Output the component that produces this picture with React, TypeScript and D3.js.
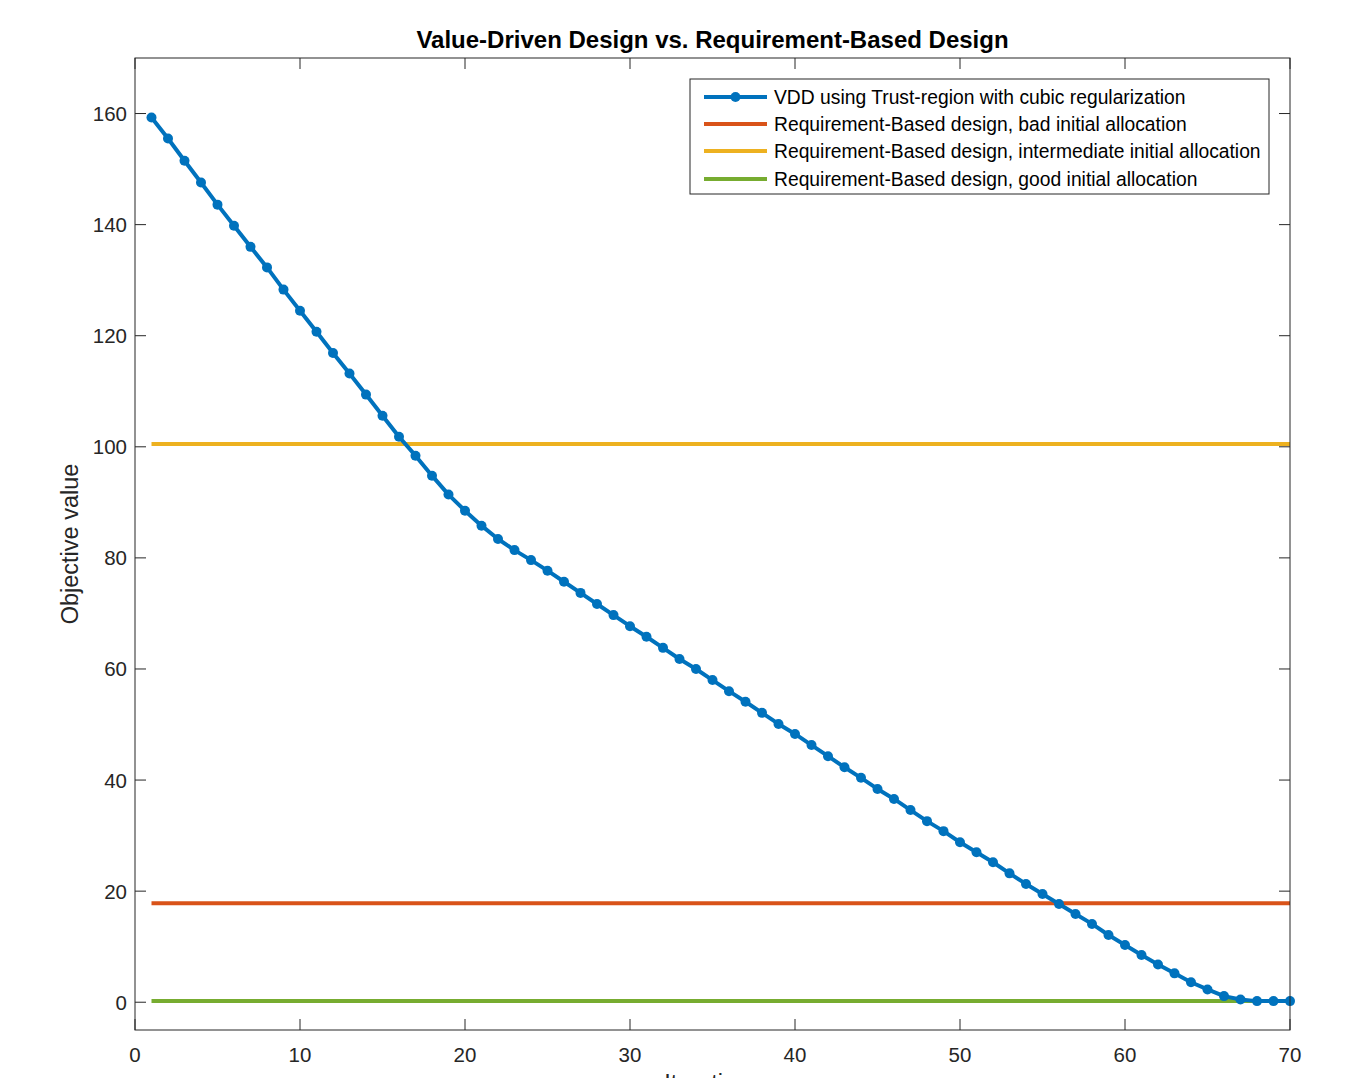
import React from "react";
import * as d3 from "d3";

const iterations: number[] = d3.range(1, 71);
const vddValues: number[] = [
  159.3, 155.5, 151.5, 147.6, 143.6, 139.8, 136.0, 132.3, 128.3, 124.5,
  120.7, 116.9, 113.2, 109.4, 105.6, 101.8, 98.4, 94.8, 91.4, 88.5,
  85.8, 83.4, 81.4, 79.6, 77.7, 75.7, 73.7, 71.7, 69.7, 67.7,
  65.8, 63.8, 61.8, 60.0, 58.0, 56.0, 54.1, 52.1, 50.1, 48.3,
  46.3, 44.3, 42.3, 40.4, 38.4, 36.6, 34.6, 32.6, 30.8, 28.8,
  27.0, 25.2, 23.2, 21.3, 19.5, 17.7, 15.9, 14.1, 12.1, 10.3,
  8.5, 6.8, 5.2, 3.6, 2.3, 1.1, 0.5, 0.2, 0.2, 0.2,
];
const rbBad = 17.8;
const rbIntermediate = 100.5;
const rbGood = 0.2;

const xTicks = [0, 10, 20, 30, 40, 50, 60, 70];
const yTicks = [0, 20, 40, 60, 80, 100, 120, 140, 160];

const seriesNames = [
  "VDD using Trust-region with cubic regularization",
  "Requirement-Based design, bad initial allocation",
  "Requirement-Based design, intermediate initial allocation",
  "Requirement-Based design, good initial allocation",
];
const colors = ["#0072BD", "#D95319", "#EDB120", "#77AC30"];

const W = 1346;
const H = 1078;
const L = 135, R = 1290, T = 58, B = 1030;

export default function App() {
  const x = d3.scaleLinear().domain([0, 70]).range([L, R]);
  const y = d3.scaleLinear().domain([-5, 170]).range([B, T]);
  const line = d3
    .line<number>()
    .x((_, i) => x(iterations[i]))
    .y((d) => y(d));
  const hLines = [rbBad, rbIntermediate, rbGood];
  const axisColor = "#262626";
  const font = "'Liberation Sans', Arial, Helvetica, sans-serif";
  const tickLen = 11;

  const legX = 690, legY = 79, legW = 579, legH = 115;
  const legRows = [97, 124, 151, 179];

  return (
    <svg
      width={W}
      height={H}
      style={{ position: "absolute", left: 0, top: 0 }}
      fontFamily={font}
    >
      <rect x={0} y={0} width={W} height={H} fill="#fff" />
      <text
        x={(L + R) / 2}
        y={47.5}
        textAnchor="middle"
        fontSize={24}
        fontWeight="bold"
        fill="#000"
      >
        Value-Driven Design vs. Requirement-Based Design
      </text>

      {/* ticks */}
      {xTicks.map((t) => (
        <g key={"xt" + t}>
          <line x1={x(t)} x2={x(t)} y1={B} y2={B - tickLen} stroke={axisColor} strokeWidth={1} />
          <line x1={x(t)} x2={x(t)} y1={T} y2={T + tickLen} stroke={axisColor} strokeWidth={1} />
          <text x={x(t)} y={1062} textAnchor="middle" fontSize={20.5} fill={axisColor}>
            {t}
          </text>
        </g>
      ))}
      {yTicks.map((t) => (
        <g key={"yt" + t}>
          <line x1={L} x2={L + tickLen} y1={y(t)} y2={y(t)} stroke={axisColor} strokeWidth={1} />
          <line x1={R} x2={R - tickLen} y1={y(t)} y2={y(t)} stroke={axisColor} strokeWidth={1} />
          <text x={127} y={y(t) + 7.5} textAnchor="end" fontSize={20.5} fill={axisColor}>
            {t}
          </text>
        </g>
      ))}

      <text
        transform={`translate(78, ${(T + B) / 2}) rotate(-90)`}
        textAnchor="middle"
        fontSize={23.5}
        fill={axisColor}
      >
        Objective value
      </text>
      <text x={(L + R) / 2} y={1091} textAnchor="middle" fontSize={23.5} fill={axisColor}>
        Iterations
      </text>

      {/* horizontal lines */}
      {hLines.map((v, i) => (
        <line
          key={"h" + i}
          x1={x(1)}
          x2={x(70)}
          y1={y(v)}
          y2={y(v)}
          stroke={colors[i + 1]}
          strokeWidth={4}
        />
      ))}

      {/* VDD */}
      <path d={line(vddValues) || ""} fill="none" stroke={colors[0]} strokeWidth={4} strokeLinejoin="round" />
      {vddValues.map((v, i) => (
        <circle key={"p" + i} cx={x(iterations[i])} cy={y(v)} r={5} fill={colors[0]} />
      ))}

      {/* box */}
      <rect x={L} y={T} width={R - L} height={B - T} fill="none" stroke={axisColor} strokeWidth={1} />

      {/* legend */}
      <rect x={legX} y={legY} width={legW} height={legH} fill="#fff" stroke={axisColor} strokeWidth={1} />
      {seriesNames.map((name, i) => (
        <g key={"lg" + i}>
          <line x1={704} x2={767} y1={legRows[i]} y2={legRows[i]} stroke={colors[i]} strokeWidth={4} />
          {i === 0 && <circle cx={735.5} cy={legRows[i]} r={5} fill={colors[0]} />}
          <text x={774} y={legRows[i] + 7} fontSize={19.3} fill="#000">
            {name}
          </text>
        </g>
      ))}
    </svg>
  );
}
